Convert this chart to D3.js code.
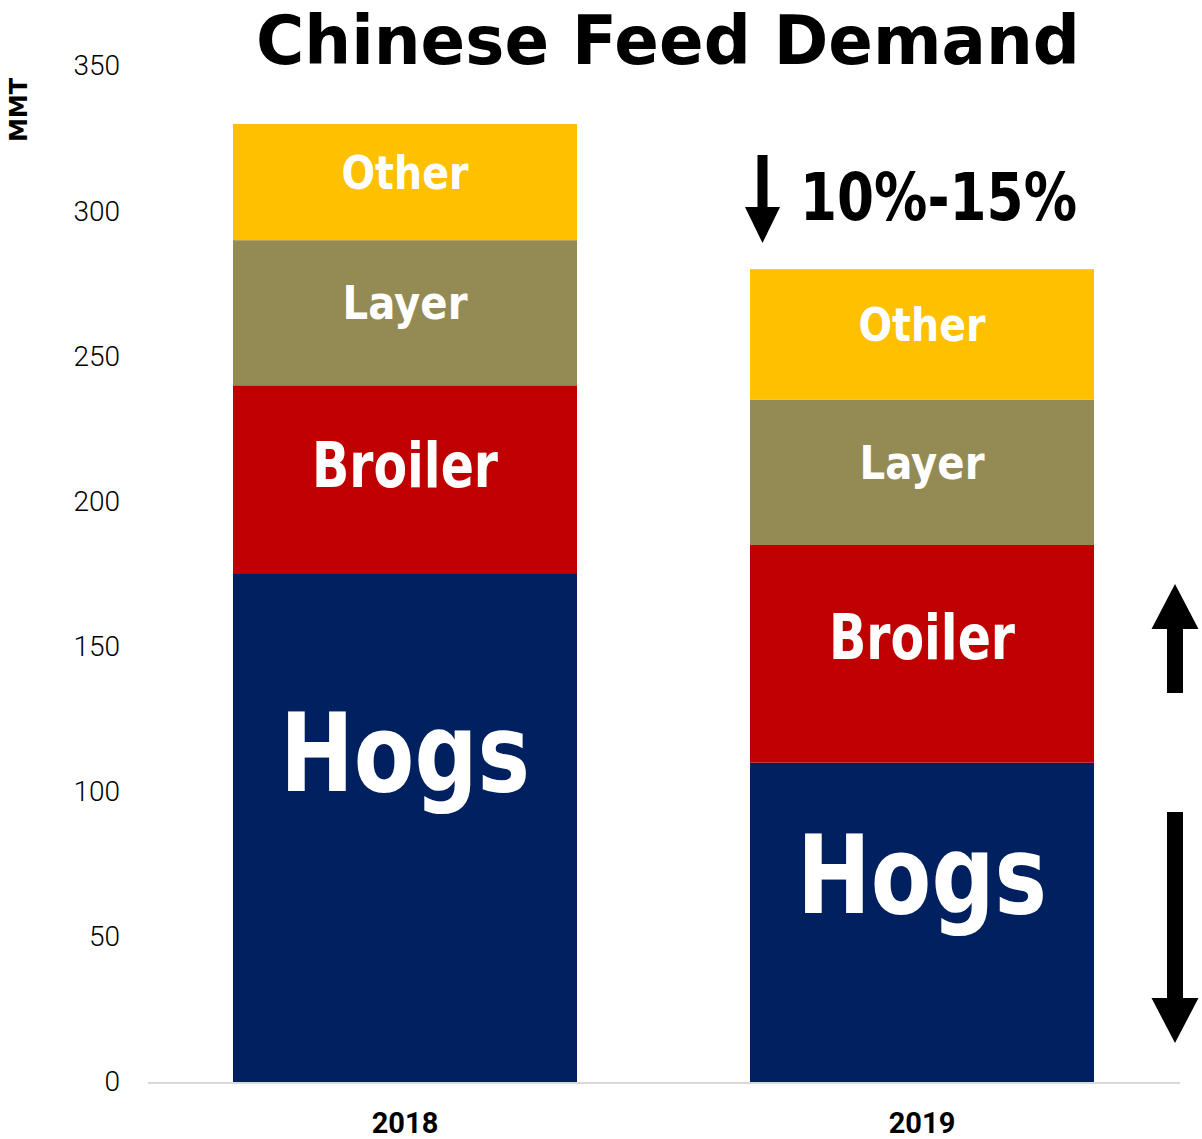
<!DOCTYPE html>
<html><head><meta charset="utf-8">
<script src="https://cdn.jsdelivr.net/npm/d3@7"></script>
<style>body{margin:0;background:#fff}svg{display:block}</style>
</head><body>
<svg id="c" width="1202" height="1139"></svg>
<script>
const years = ["2018", "2019"];
const seriesNames = ["Hogs", "Broiler", "Layer", "Other"];
const hogs = [175, 110];
const broiler = [65, 75];
const layer = [50, 50];
const other = [40, 45];
const yTicks = [0, 50, 100, 150, 200, 250, 300, 350];
const title = "Chinese Feed Demand";
const changeLabel = "10%-15%";
const colors = {Hogs: "#002060", Broiler: "#C00000", Layer: "#948A54", Other: "#FFC000"};
const labelSize = {Hogs: 108, Broiler: 62, Layer: 46, Other: 46};
const labelWidth = {Hogs: 250, Broiler: 186, Layer: 125, Other: 127};
const labelFrac = {Hogs: 0.35, Broiler: 0.42, Layer: 0.43, Other: 0.42};

const table = years.map((y, i) => ({year: y, Hogs: hogs[i], Broiler: broiler[i], Layer: layer[i], Other: other[i]}));
const stack = d3.stack().keys(seriesNames)(table);

const svg = d3.select("#c");
const font = "'DejaVu Sans', sans-serif";
const y = d3.scaleLinear().domain([0, 350]).range([1082, 66]);
const x = d3.scaleBand().domain(years).range([146.5, 1180.5]).paddingInner(0.3346).paddingOuter(0.1673);

// title
svg.append("text").attr("x", 668).attr("y", 64).attr("text-anchor", "middle")
  .attr("font-family", font).attr("font-weight", "bold").attr("font-size", 68)
  .attr("textLength", 824).attr("lengthAdjust", "spacingAndGlyphs").text(title);

// y axis
const yAxis = svg.append("g").attr("transform", "translate(120,0)")
  .call(d3.axisLeft(y).tickValues(yTicks).tickSize(0).tickPadding(0));
yAxis.select(".domain").remove();
yAxis.selectAll("text").attr("font-family", "Roboto, sans-serif").attr("font-size", 28).attr("fill", "#000").attr("font-weight", 300);

svg.append("text").attr("transform", "translate(27,110) rotate(-90)").attr("text-anchor", "middle")
  .attr("font-family", font).attr("font-weight", "bold").attr("font-size", 24).text("MMT");

// bars
const g = svg.append("g");
stack.forEach(s => {
  g.selectAll(null).data(s).enter().append("rect")
    .attr("x", d => x(d.data.year)).attr("width", x.bandwidth())
    .attr("y", d => y(d[1])).attr("height", d => y(d[0]) - y(d[1]))
    .attr("fill", colors[s.key]);
  g.selectAll(null).data(s).enter().append("text")
    .attr("x", d => x(d.data.year) + x.bandwidth() / 2)
    .attr("y", d => y(d[1]) + (y(d[0]) - y(d[1])) * labelFrac[s.key] + labelSize[s.key] * 0.36)
    .attr("text-anchor", "middle").attr("fill", "#fff")
    .attr("font-family", font).attr("font-weight", "bold").attr("font-size", labelSize[s.key])
    .attr("textLength", labelWidth[s.key]).attr("lengthAdjust", "spacingAndGlyphs")
    .text(s.key);
});

// x axis
svg.append("line").attr("x1", 148).attr("x2", 1180).attr("y1", y(0) + 1).attr("y2", y(0) + 1)
  .attr("stroke", "#d9d9d9").attr("stroke-width", 2);
const xAxis = svg.append("g").attr("transform", `translate(0,${y(0)})`)
  .call(d3.axisBottom(x).tickSize(0).tickPadding(0));
xAxis.select(".domain").remove();
xAxis.selectAll("text").attr("dy", null).attr("y", 51).attr("font-family", "Roboto, sans-serif")
  .attr("font-weight", "bold").attr("font-size", 29).attr("fill", "#000");

// annotation: arrows and percent change
function arrow(cx, y1, y2, shaftW, headW, headH) {
  const dir = Math.sign(y2 - y1);
  const hb = y2 - dir * headH;
  const pts = [[cx - shaftW / 2, y1], [cx + shaftW / 2, y1], [cx + shaftW / 2, hb], [cx + headW / 2, hb],
    [cx, y2], [cx - headW / 2, hb], [cx - shaftW / 2, hb]];
  svg.append("path").attr("d", d3.line()(pts) + "Z").attr("fill", "#000");
}
arrow(762.5, 155, 243, 10, 35, 36);
svg.append("text").attr("x", 800).attr("y", 220).attr("font-family", font).attr("font-weight", "bold")
  .attr("font-size", 66).attr("textLength", 277).attr("lengthAdjust", "spacingAndGlyphs").text(changeLabel);

arrow(1175, 693, 584, 16, 47, 45);
arrow(1175, 812, 1043, 16, 47, 45);
</script>
</body></html>
